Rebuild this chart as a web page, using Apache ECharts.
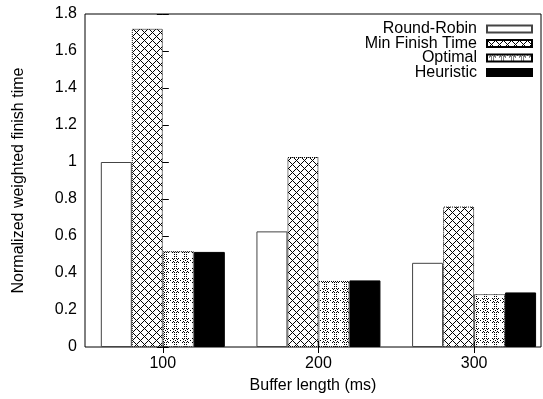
<!DOCTYPE html>
<html>
<head>
<meta charset="utf-8">
<script src="https://cdn.jsdelivr.net/npm/echarts@6/dist/echarts.min.js"></script>
<style>
  html, body { margin: 0; padding: 0; background: #fff; }
  #chart { width: 543px; height: 399px; }
</style>
</head>
<body>
<div id="chart"></div>
<script>
var categories = ['100', '200', '300'];
var seriesNames = ['Round-Robin', 'Min Finish Time', 'Optimal', 'Heuristic'];
var roundRobin = [1.0, 0.625, 0.455];
var minFinishTime = [1.72, 1.027, 0.759];
var optimal = [0.518, 0.357, 0.286];
var heuristic = [0.514, 0.36, 0.295];

var FONT = '"Liberation Sans", Arial, sans-serif';

// little black/white tiles for the gnuplot-like fill patterns
function makeTile(size, isBlack) {
    var c = document.createElement('canvas');
    c.width = size;
    c.height = size;
    var ctx = c.getContext('2d');
    ctx.fillStyle = '#fff';
    ctx.fillRect(0, 0, size, size);
    ctx.fillStyle = '#000';
    for (var y = 0; y < size; y++) {
        for (var x = 0; x < size; x++) {
            if (isBlack(x, y)) ctx.fillRect(x, y, 1, 1);
        }
    }
    return c;
}

var crossTile = makeTile(8, function (x, y) {
    return (x - y + 8) % 8 === 0 || (x + y) % 8 === 0;
});

function wrap10(v) { return ((v + 5) % 10 + 10) % 10 - 5; }
var ringTile = makeTile(10, function (x, y) {
    var diag = ((x - y + 10) % 10 === 0 || (x + y) % 10 === 0) && (x % 2 === 0);
    var dx = wrap10(x - 5), dy = wrap10(y);
    var d2 = dx * dx + dy * dy;
    var ring = (d2 >= 3 && d2 <= 5) && ((x + y) % 2 === 0);
    return diag || ring || d2 === 0;
});

function toPoints(vals) {
    return vals.map(function (v, i) { return [i, v]; });
}

var tickPos = categories.map(function (c, i) { return i; });

var barBase = { type: 'bar', barWidth: 31, barGap: '0%' };

var option = {
    animation: false,
    grid: {
        left: 85, right: 2, top: 14, bottom: 49,
        show: true, borderColor: '#000', borderWidth: 1
    },
    legend: {
        orient: 'vertical',
        right: 5,
        top: 16,
        align: 'right',
        icon: 'rect',
        itemWidth: 45,
        itemHeight: 7,
        itemGap: -1.5,
        data: seriesNames,
        textStyle: { fontFamily: FONT, fontSize: 16, lineHeight: 15, color: '#000', padding: [0, 5, 0, 0] }
    },
    xAxis: [{
        type: 'value',
        min: -0.5,
        max: 2.43,
        position: 'bottom',
        name: 'Buffer length (ms)',
        nameLocation: 'middle',
        nameGap: 31,
        nameTextStyle: { fontFamily: FONT, fontSize: 16, color: '#000' },
        axisLine: { show: false },
        splitLine: { show: false },
        axisTick: { show: true, inside: true, length: 6, customValues: tickPos, lineStyle: { color: '#000' } },
        axisLabel: {
            customValues: tickPos,
            margin: 9,
            fontFamily: FONT, fontSize: 16, color: '#000',
            formatter: function (v) { return categories[Math.round(v)]; }
        }
    }, {
        type: 'value',
        min: -0.5,
        max: 2.43,
        position: 'top',
        axisLine: { show: false },
        splitLine: { show: false },
        axisTick: { show: true, inside: true, length: 6, customValues: tickPos, lineStyle: { color: '#000' } },
        axisLabel: { show: false }
    }],
    yAxis: [{
        type: 'value',
        min: 0,
        max: 1.8,
        interval: 0.2,
        position: 'left',
        name: 'Normalized weighted finish time',
        nameLocation: 'middle',
        nameGap: 58,
        nameTextStyle: { fontFamily: FONT, fontSize: 16, color: '#000' },
        axisLine: { show: false },
        splitLine: { show: false },
        axisTick: { show: true, inside: true, length: 6, lineStyle: { color: '#000' } },
        axisLabel: { margin: 8, fontFamily: FONT, fontSize: 16, color: '#000' }
    }, {
        type: 'value',
        min: 0,
        max: 1.8,
        interval: 0.2,
        position: 'right',
        axisLine: { show: false },
        splitLine: { show: false },
        axisTick: { show: true, inside: true, length: 6, lineStyle: { color: '#000' } },
        axisLabel: { show: false }
    }],
    series: [
        Object.assign({}, barBase, {
            name: seriesNames[0],
            data: toPoints(roundRobin),
            itemStyle: { color: '#fff', borderColor: '#444', borderWidth: 1 }
        }),
        Object.assign({}, barBase, {
            name: seriesNames[1],
            data: toPoints(minFinishTime),
            itemStyle: { color: { image: crossTile, repeat: 'repeat' }, borderColor: '#000', borderWidth: 1, borderType: 'dotted' }
        }),
        Object.assign({}, barBase, {
            name: seriesNames[2],
            data: toPoints(optimal),
            itemStyle: { color: { image: ringTile, repeat: 'repeat' }, borderColor: '#000', borderWidth: 1, borderType: 'dotted' }
        }),
        Object.assign({}, barBase, {
            name: seriesNames[3],
            data: toPoints(heuristic),
            itemStyle: { color: '#000', borderColor: '#000', borderWidth: 1 }
        })
    ]
};

var chartDom = document.getElementById('chart');
var chart = echarts.init(chartDom);
chart.setOption(option);
</script>
</body>
</html>
